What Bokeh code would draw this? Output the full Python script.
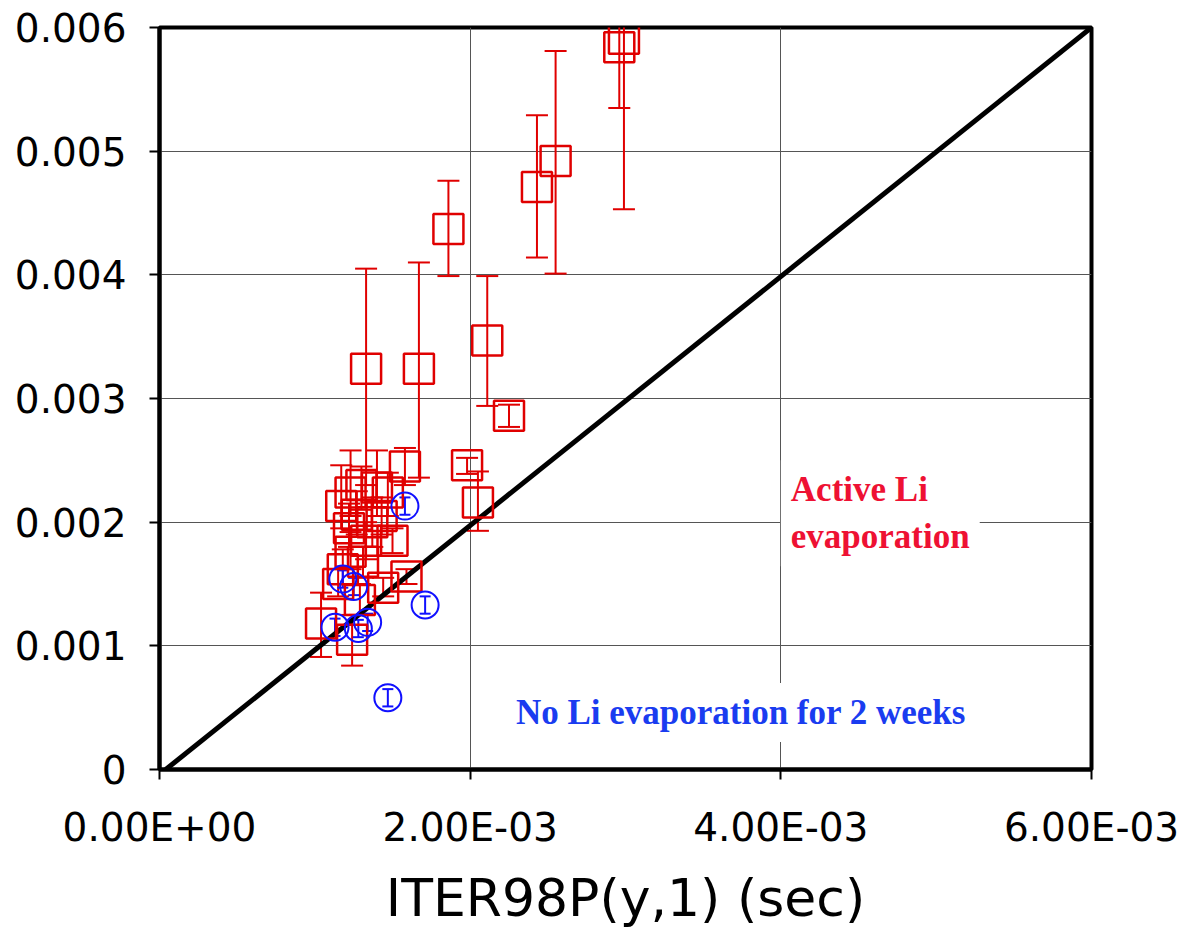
import numpy as np
from bokeh.plotting import figure
from bokeh.models import (ColumnDataSource, Whisker, TeeHead, Range1d, FixedTicker, Label)
from bokeh.embed import file_html
from bokeh.resources import INLINE

# values in units of 1e-3 (sec)
red_x  = [2.96, 2.99, 2.55, 2.43, 1.86, 1.67, 1.33, 2.11, 2.25, 1.98, 2.05, 1.58,
          1.17, 1.23, 1.30, 1.40, 1.47, 1.27, 1.37, 1.22, 1.43, 1.50, 1.33, 1.23,
          1.31, 1.18, 1.15, 1.44, 1.59, 1.04, 1.24, 1.29]
red_y  = [5.84, 5.91, 4.92, 4.71, 4.37, 3.24, 3.24, 3.47, 2.86, 2.46, 2.16, 2.45,
          2.13, 2.24, 2.30, 2.28, 2.24, 2.06, 2.00, 1.95, 2.05, 1.85, 1.85, 1.76,
          1.68, 1.62, 1.50, 1.47, 1.56, 1.18, 1.05, 1.37]
red_lo = [5.35, 4.53, 4.01, 4.14, 3.99, 2.36, 2.30, 2.94, 2.77, 2.39, 1.93, 2.30,
          1.95, 2.05, 2.10, 2.05, 2.05, 1.90, 1.80, 1.80, 1.90, 1.75, 1.70, 1.62,
          1.55, 1.50, 1.40, 1.40, 1.50, 0.91, 0.84, 1.25]
red_hi = [6.13, 6.13, 5.81, 5.29, 4.76, 4.10, 4.05, 3.99, 2.95, 2.52, 2.41, 2.60,
          2.46, 2.58, 2.45, 2.58, 2.40, 2.25, 2.20, 2.15, 2.20, 1.95, 2.00, 1.92,
          1.80, 1.78, 1.62, 1.55, 1.62, 1.43, 1.25, 1.50]

blue_x  = [1.58, 1.71, 1.47, 1.18, 1.25, 1.13, 1.34, 1.28]
blue_y  = [2.13, 1.33, 0.58, 1.54, 1.48, 1.15, 1.19, 1.14]
blue_lo = [2.06, 1.26, 0.51, 1.47, 1.41, 1.08, 1.12, 1.07]
blue_hi = [2.20, 1.40, 0.65, 1.61, 1.55, 1.22, 1.26, 1.21]

line_x = [0.04, 6.0]
line_y = [0.0, 6.0]

x_ticks = [0.0, 0.002, 0.004, 0.006]
x_tick_labels = ["0.00E+00", "2.00E-03", "4.00E-03", "6.00E-03"]
y_ticks = [0.0, 0.001, 0.002, 0.003, 0.004, 0.005, 0.006]
y_tick_labels = ["0", "0.001", "0.002", "0.003", "0.004", "0.005", "0.006"]

S = 1e-3
RED = "#e00000"
BLUE = "#1010ff"

red_src = ColumnDataSource(dict(x=np.array(red_x) * S, y=np.array(red_y) * S,
                                lo=np.array(red_lo) * S, hi=np.array(red_hi) * S))
blue_src = ColumnDataSource(dict(x=np.array(blue_x) * S, y=np.array(blue_y) * S,
                                 lo=np.array(blue_lo) * S, hi=np.array(blue_hi) * S))

p = figure(frame_width=932, frame_height=742, output_backend="svg", toolbar_location=None,
           x_range=Range1d(0, 0.006), y_range=Range1d(0, 0.006),
           min_border_left=159, min_border_right=110, min_border_top=27, min_border_bottom=163,
           background_fill_color="white", border_fill_color="white")

p.outline_line_color = "black"
p.outline_line_width = 4

p.xaxis.ticker = FixedTicker(ticks=x_ticks)
p.yaxis.ticker = FixedTicker(ticks=y_ticks)
p.xaxis.major_label_overrides = dict(zip(x_ticks, x_tick_labels))
p.yaxis.major_label_overrides = dict(zip(y_ticks, y_tick_labels))
for ax in (p.xaxis, p.yaxis):
    ax.axis_line_color = "black"
    ax.axis_line_width = 4
    ax.major_tick_line_color = "black"
    ax.major_tick_line_width = 2
    ax.major_tick_out = 10
    ax.major_tick_in = 0
    ax.minor_tick_line_color = None
    ax.major_label_text_font = "DejaVu Sans"
    ax.major_label_text_font_size = "39px"
    ax.major_label_text_color = "black"
p.yaxis.major_label_standoff = 23
p.xaxis.major_label_standoff = 25
p.xaxis.axis_label = "ITER98P(y,1) (sec)"
p.xaxis.axis_label_text_font = "DejaVu Sans"
p.xaxis.axis_label_text_font_size = "52px"
p.xaxis.axis_label_text_font_style = "normal"
p.xaxis.axis_label_text_color = "black"
p.xaxis.axis_label_standoff = 15

p.xgrid.grid_line_color = "#555555"
p.ygrid.grid_line_color = "#555555"
p.xgrid.grid_line_width = 1
p.ygrid.grid_line_width = 1

# text labels with white background
p.add_layout(Label(x=0.00400, y=0.00250, text="Active Li\nevaporation",
                   text_font="Liberation Serif", text_font_style="bold",
                   text_font_size="35px", text_color="#ee1133",
                   text_align="left", text_baseline="top",
                   background_fill_color="white", padding=10))
p.add_layout(Label(x=0.00223, y=0.00046, text="No Li evaporation for 2 weeks",
                   text_font="Liberation Serif", text_font_style="bold",
                   text_font_size="35px", text_color="#1a3cf0",
                   text_align="left", text_baseline="alphabetic",
                   background_fill_color="white", padding=10))

p.line(x=np.array(line_x) * S, y=np.array(line_y) * S, line_color="black", line_width=5)

p.add_layout(Whisker(source=red_src, base="x", upper="hi", lower="lo",
                     line_color=RED, line_width=2,
                     upper_head=TeeHead(size=22, line_color=RED, line_width=2),
                     lower_head=TeeHead(size=22, line_color=RED, line_width=2)))
p.add_layout(Whisker(source=blue_src, base="x", upper="hi", lower="lo",
                     line_color=BLUE, line_width=2,
                     upper_head=TeeHead(size=11, line_color=BLUE, line_width=2),
                     lower_head=TeeHead(size=11, line_color=BLUE, line_width=2)))

p.scatter(x="x", y="y", source=red_src, marker="square", size=30,
          fill_color=None, line_color=RED, line_width=2.5)
p.scatter(x="x", y="y", source=blue_src, marker="circle", size=27,
          fill_color=None, line_color=BLUE, line_width=2)

open("out.html", "w").write(file_html(p, INLINE))
